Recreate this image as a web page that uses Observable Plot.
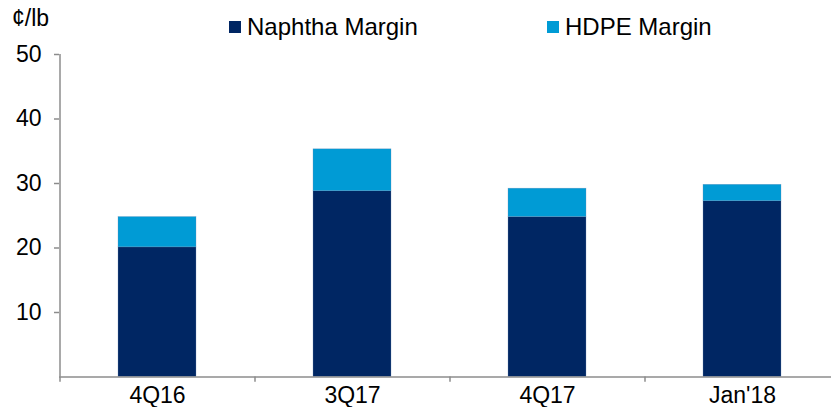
<!DOCTYPE html>
<html>
<head>
<meta charset="utf-8">
<script src="https://cdn.jsdelivr.net/npm/d3@7"></script>
<script src="https://cdn.jsdelivr.net/npm/@observablehq/plot@0.6"></script>
<style>
  html, body { margin: 0; padding: 0; background: #fff; }
  #wrap { position: relative; width: 831px; height: 407px; font-family: "Liberation Sans", Arial, sans-serif; }
  #wrap svg { position: absolute; left: 0; top: 0; }
  .unit { position: absolute; left: 12px; top: 5px; font-size: 23px; color: #000; }
  .leg { position: absolute; top: 13px; font-size: 24px; color: #000; display: flex; align-items: center; }
  .sw { display: inline-block; width: 12px; height: 12px; margin-right: 6px; }
</style>
</head>
<body>
<div id="wrap"></div>
<script>
const categories = ["4Q16", "3Q17", "4Q17", "Jan'18"];
const seriesNames = ["Naphtha Margin", "HDPE Margin"];
const naphtha = [20.1, 28.8, 24.8, 27.25];
const hdpe = [4.7, 6.5, 4.4, 2.55];
const yTicks = [10, 20, 30, 40, 50];
const colors = ["#002663", "#009BD5"];

const data = [];
categories.forEach((c, i) => {
  data.push({cat: c, series: seriesNames[0], value: naphtha[i]});
  data.push({cat: c, series: seriesNames[1], value: hdpe[i]});
});

const step = 195;
const chart = Plot.plot({
  width: 831,
  height: 407,
  marginLeft: 59,
  marginRight: 0,
  marginTop: 54,
  marginBottom: 30.5,
  style: {fontFamily: "'Liberation Sans', Arial, sans-serif", fontSize: "23px", color: "#000", background: "#fff"},
  x: {domain: categories, range: [59, 59 + step * 4], paddingInner: 0.6, paddingOuter: 0.3, align: 0.5},
  y: {domain: [0, 50]},
  color: {domain: seriesNames, range: colors},
  marks: [
    Plot.barY(data, {x: "cat", y: "value", fill: "series", stroke: "#6f8fb8", strokeWidth: 0.5, strokeOpacity: 0.6}),
    Plot.ruleY([0], {stroke: "#8c8c8c", strokeWidth: 1.5}),
    Plot.ruleX(categories, {x: d => d, dx: -step / 2, y1: -0.8, y2: 0, stroke: "#8c8c8c", strokeWidth: 1.5}),
    Plot.ruleX([categories[0]], {x: d => d, dx: -step / 2, y1: 0, y2: 50, stroke: "#8c8c8c", strokeWidth: 1.5}),
    Plot.axisY({ticks: yTicks, tickSize: 5, tickPadding: 13, stroke: "#8c8c8c", strokeWidth: 1.5, fill: "#000", fontSize: 23, label: null}),
    Plot.axisX({tickSize: 0, tickPadding: 10, fill: "#000", fontSize: 23, label: null})
  ]
});

const wrap = document.getElementById("wrap");
wrap.appendChild(chart);

const unit = document.createElement("div");
unit.className = "unit";
unit.textContent = "¢/lb";
wrap.appendChild(unit);

const legPos = [229, 547];
seriesNames.forEach((s, i) => {
  const d = document.createElement("div");
  d.className = "leg";
  d.style.left = legPos[i] + "px";
  const sw = document.createElement("span");
  sw.className = "sw";
  sw.style.background = colors[i];
  d.appendChild(sw);
  const t = document.createElement("span");
  t.textContent = s;
  d.appendChild(t);
  wrap.appendChild(d);
});
</script>
</body>
</html>
